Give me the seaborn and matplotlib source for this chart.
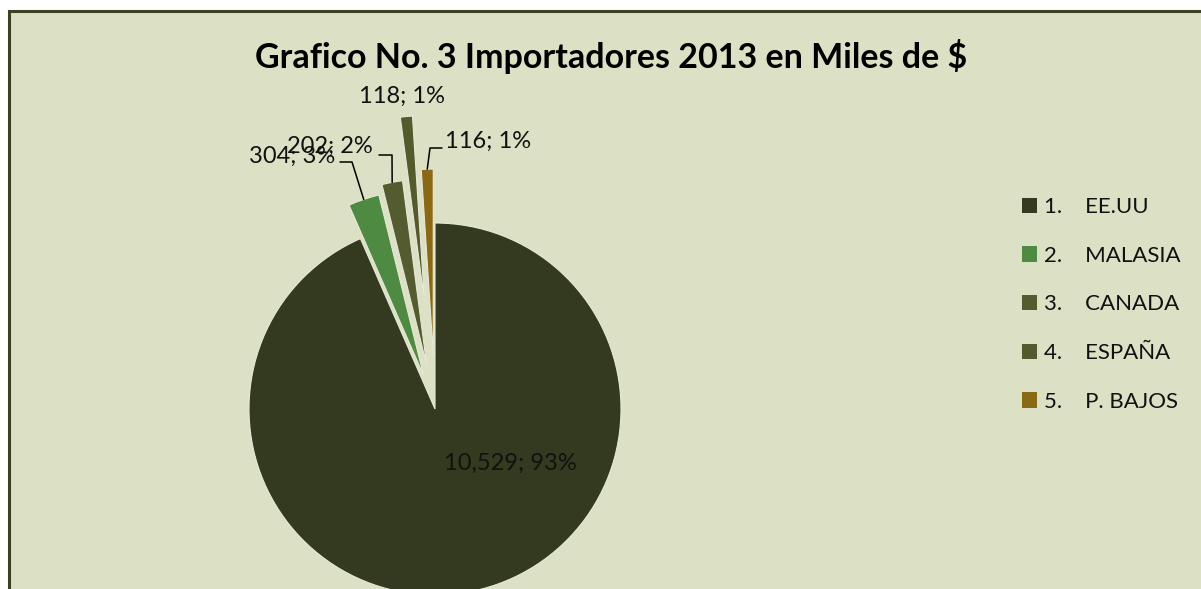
import matplotlib
matplotlib.use("Agg")
import matplotlib.pyplot as plt
import seaborn as sns
import numpy as np
from matplotlib.patches import Rectangle

# ---- data ----
countries = ["EE.UU", "MALASIA", "CANADA", "ESPAÑA", "P. BAJOS"]
values = [10529, 304, 202, 118, 116]
title = "Grafico No. 3 Importadores 2013 en Miles de $"

# ---- style ----
colors = ["#343A1F", "#4F8A43", "#545C2F", "#535B2D", "#8B6914"]
explode = [0.0, 0.19, 0.24, 0.58, 0.29]
BG = "#DCE1C5"
BORDER = "#3A4222"

W, H = 1201, 589
CX, CY, R = 435, 409, 186  # pie centre / radius in pixels


def px(x, y):
    return ((x - CX) / R, (CY - y) / R)


sns.set_theme(style="white")
plt.rcParams["font.family"] = ["Lato", "DejaVu Sans"]

fig = plt.figure(figsize=(W / 100, H / 100), dpi=100)
fig.patch.set_facecolor("white")
frame = Rectangle((8.5 / W, -0.05), 1.2, (H - 11) / H + 0.05,
                  transform=fig.transFigure, facecolor=BG,
                  edgecolor=BORDER, linewidth=2.2, zorder=-5)
fig.patches.append(frame)

ax = fig.add_axes([0, 0, 1, 1])
ax.set_facecolor("none")
pal = sns.color_palette(colors)
wedges, _ = ax.pie(values, explode=explode, colors=pal, startangle=90,
                   counterclock=False, radius=1,
                   wedgeprops=dict(edgecolor="#E6E9D6", linewidth=0.8))
ax.set_xlim(-CX / R, (W - CX) / R)
ax.set_ylim((CY - H) / R, CY / R)
ax.set_aspect("equal")
ax.axis("off")

total = sum(values)
pcts = [round(v / total * 100) for v in values]
labels_txt = [f"{v:,}; {p}%" for v, p in zip(values, pcts)]

# label positions (pixel centre x, baseline y)
label_pos = [(510, 470), (292, 163), (330, 153), (402, 103), (488, 148)]
for txt, (lx, ly) in zip(labels_txt, label_pos):
    x, y = px(lx, ly)
    ax.text(x, y, txt, ha="center", va="baseline", fontsize=17,
            color="#111111", zorder=5)

# leader lines: from wedge tip to elbow to end near label
elbows = {1: [(352, 162), (340, 162)],
          2: [(392, 155), (379, 155)],
          4: [(430, 148), (442, 148)]}
theta = 90.0
for i, v in enumerate(values):
    ang = v / total * 360.0
    mid = np.deg2rad(theta - ang / 2)
    theta -= ang
    if i in elbows:
        d = 1 + explode[i]
        tip = (d * np.cos(mid), d * np.sin(mid))
        pts = [tip] + [px(*p) for p in elbows[i]]
        xs, ys = zip(*pts)
        ax.plot(xs, ys, color="black", linewidth=1.1, zorder=4)

fig.text(611 / W, 1 - 68 / H, title, ha="center", va="baseline",
         fontsize=24.5, fontweight="bold", color="black")

leg_labels = [f"{i + 1}.    {c}" for i, c in enumerate(countries)]
leg = ax.legend(wedges, leg_labels, loc="upper left",
                bbox_to_anchor=(1022 / W, 1 - 197 / H),
                bbox_transform=fig.transFigure, frameon=False,
                fontsize=16, handlelength=0.68, handleheight=0.68,
                handletextpad=0.3, labelspacing=1.29, borderpad=0,
                borderaxespad=0)
for h in leg.legend_handles:
    h.set_linewidth(0)
for t in leg.get_texts():
    t.set_color("#111111")

fig.savefig("out.png", dpi=100, facecolor=fig.get_facecolor())
